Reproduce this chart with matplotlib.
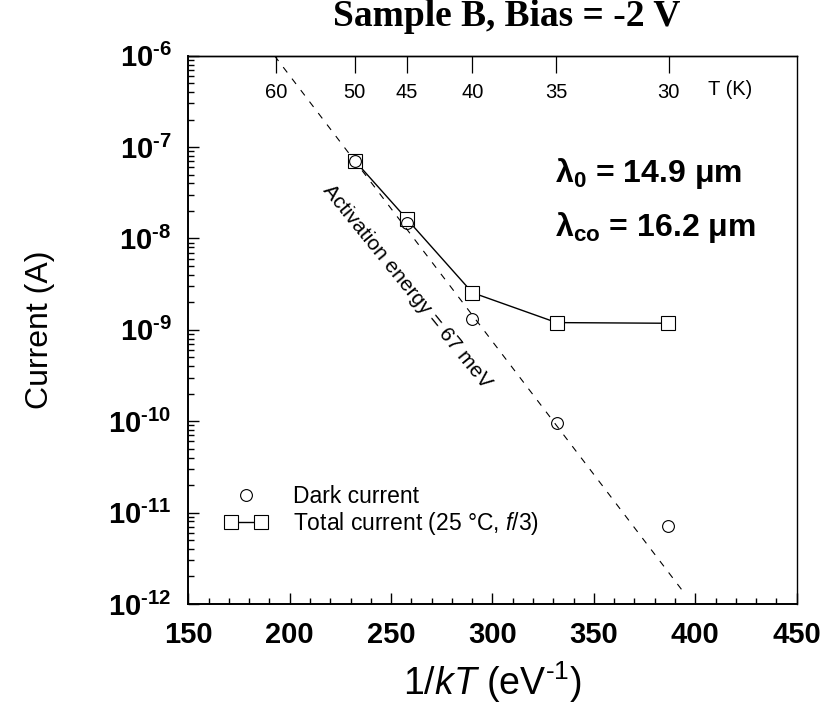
import numpy as np
import matplotlib
matplotlib.use('Agg')
import matplotlib.pyplot as plt
from matplotlib.ticker import MultipleLocator, LogLocator, NullFormatter, NullLocator, FuncFormatter
from matplotlib.legend_handler import HandlerLine2D

plt.rcParams['font.family'] = ['Liberation Sans', 'DejaVu Sans']
plt.rcParams['mathtext.fontset'] = 'custom'
plt.rcParams['mathtext.rm'] = 'Liberation Sans'
plt.rcParams['mathtext.it'] = 'Liberation Sans:italic'
plt.rcParams['mathtext.bf'] = 'Liberation Sans:bold'
plt.rcParams['mathtext.default'] = 'regular'
plt.rcParams['axes.unicode_minus'] = False

k_B = 8.617e-5  # eV/K
HYPH = '\u2010'

# data
inv_kT = [232.1, 257.9, 290.1, 331.6, 386.8]
dark_current = [7.0e-8, 1.49e-8, 1.31e-9, 9.5e-11, 7.1e-12]
total_current = [7.1e-8, 1.62e-8, 2.55e-9, 1.2e-9, 1.18e-9]

# activation energy fit line
Ea = 0.067  # eV
fit_x = [192.5, 394.8]
fit_ref_x = 192.5
fit_ref_I = 1.0e-6

temps_K = [60, 50, 45, 40, 35, 30]

fig = plt.figure(figsize=(8.29, 7.11), dpi=100)
ax = fig.add_axes([0.2271, 0.1505, 0.7339, 0.7712])

fx = np.array(fit_x)
fy = fit_ref_I * np.exp(-Ea * (fx - fit_ref_x))
ax.plot(fx, fy, color='black', lw=0.8, linestyle=(0, (6, 7)), zorder=2)

l_tot, = ax.plot(inv_kT, total_current, color='black', lw=1.0, marker='s',
                 markersize=9.5, markerfacecolor='white', markeredgewidth=0.8,
                 label='Total current (25 \u00b0C, $\\mathit{f}$/3)', zorder=3)
l_dark, = ax.plot(inv_kT, dark_current, linestyle='none', color='black', marker='o',
                  markersize=8.5, markerfacecolor='none', markeredgewidth=0.8,
                  label='Dark current', zorder=4)

ax.set_yscale('log')
ax.set_xlim(150, 450)
ax.set_ylim(1e-12, 1e-6)


def decade_label(v, pos):
    n = int(round(np.log10(v)))
    return '10$^{%s%d}$' % (HYPH if n < 0 else '', abs(n))


ax.xaxis.set_major_locator(MultipleLocator(50))
ax.xaxis.set_minor_locator(MultipleLocator(10))
ax.yaxis.set_major_locator(LogLocator(base=10, numticks=20))
ax.yaxis.set_major_formatter(FuncFormatter(decade_label))
ax.yaxis.set_minor_locator(LogLocator(base=10, subs=np.arange(2, 10), numticks=20))
ax.yaxis.set_minor_formatter(NullFormatter())

ax.tick_params(which='both', direction='in', top=False, right=False, width=1.0)
ax.tick_params(which='major', length=8, labelsize=21, pad=12)
ax.tick_params(which='minor', length=4)
for lab in ax.get_xticklabels() + ax.get_yticklabels():
    lab.set_fontweight('bold')
for s in ax.spines.values():
    s.set_linewidth(1.0)
ax.spines['left'].set_linewidth(1.4)
ax.spines['bottom'].set_linewidth(1.4)

ax.set_xlabel('1/$\\mathit{kT}$ (eV$^{%s1}$)' % HYPH, fontsize=27, labelpad=8)
ax.set_ylabel('Current (A)', fontsize=23, labelpad=38)


def to_T(x):
    x = np.asarray(x, dtype=float)
    with np.errstate(divide='ignore', invalid='ignore'):
        return 1.0 / (k_B * x)


secax = ax.secondary_xaxis('top', functions=(to_T, to_T))
secax.set_xticks(temps_K)
secax.set_xticklabels([str(t) for t in temps_K])
secax.xaxis.set_minor_locator(NullLocator())
secax.tick_params(direction='in', length=12, width=0.9, pad=-33, labelsize=14.5)
secax.spines['top'].set_linewidth(1.0)

ax.text(0.89, 0.9375, 'T (K)', transform=ax.transAxes, fontsize=14.5,
        ha='center', va='center')

ax.text(0.6027, 0.786, '$\\lambda_0$ = 14.9 $\\mu$m', transform=ax.transAxes,
        fontsize=23, fontweight='bold', ha='left', va='center')
ax.text(0.6027, 0.686, '$\\lambda_{co}$ = 16.2 $\\mu$m', transform=ax.transAxes,
        fontsize=23, fontweight='bold', ha='left', va='center')

ax.text(257.6, 2.95e-9, 'Activation energy = 67 meV', fontsize=15,
        rotation=-51, rotation_mode='anchor', ha='center', va='center')

leg = ax.legend(handles=[l_dark, l_tot], loc='upper left',
                bbox_to_anchor=((223.8 - 188.3) / 608.4, (604 - 485) / 548.3),
                frameon=False, fontsize=16.5, numpoints=2, handlelength=1.91,
                handletextpad=1.1, labelspacing=0.1, borderpad=0, borderaxespad=0,
                handler_map={l_dark: HandlerLine2D(numpoints=1)})

fig.text(507 / 829, 1 - 16 / 711, 'Sample B, Bias = -2 V', fontsize=27,
         fontfamily='Liberation Serif', fontweight='bold', ha='center', va='center')

fig.savefig('out.png', dpi=100)
